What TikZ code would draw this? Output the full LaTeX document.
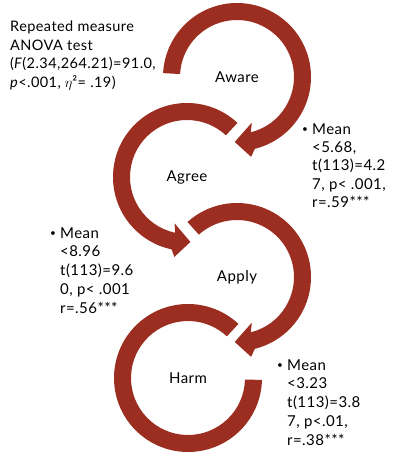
\documentclass[tikz,border=0pt]{standalone}
\usepackage{fontspec}
\setmainfont{Lato}[LetterSpace=3]
\definecolor{arrowred}{RGB}{155,46,32}
\newcommand{\bul}[1]{\makebox[#1][l]{\hspace*{1pt}\raisebox{1.5pt}{\fontsize{10}{10}\selectfont •}}}
\begin{document}
\begin{tikzpicture}[x=1pt,y=1pt,
  cyc/.style={fill=arrowred, draw=none},
  lbl/.style={font=\fontsize{15}{18}\selectfont, inner sep=0},
  info/.style={align=left, anchor=north west, inner sep=0}]
\useasboundingbox (0,0) rectangle (411,-458);
% stage labels
\node[lbl] (aware) at (237,-77) {Aware};
\node[lbl] (agree) at (187,-177) {Agree};
\node[lbl] (apply) at (237,-277) {Apply};
\node[lbl] (harm)  at (188,-378) {Harm};
% circular arrows
\begin{scope}[shift={(aware.center)}]
\fill[cyc] (177:74) arc[start angle=177,end angle=-76,radius=74] -- (-80:81) -- (-92:65) -- (-72:48) -- (-76:57) arc[start angle=-76,end angle=177,radius=57] -- cycle;
\end{scope}
\begin{scope}[shift={(agree.center)}]
\fill[cyc] (47:74) arc[start angle=47,end angle=258,radius=74] -- (261:81) -- (273:65) -- (255:48) -- (258:57) arc[start angle=258,end angle=47,radius=57] -- cycle;
\end{scope}
\begin{scope}[shift={(apply.center)}]
\fill[cyc] (132:74) arc[start angle=132,end angle=-76,radius=74] -- (-80:81) -- (-92:65) -- (-72:48) -- (-76:57) arc[start angle=-76,end angle=132,radius=57] -- cycle;
\end{scope}
\begin{scope}[shift={(harm.center)}]
\fill[cyc] (47:74) arc[start angle=47,end angle=358.5,radius=74] -- (358.5:57) arc[start angle=358.5,end angle=47,radius=57] -- cycle;
\end{scope}
% text blocks
\node[info, font=\fontsize{14.5}{18.5}\selectfont] (anova) at (10,-18.5)
  {\strut Repeated measure\\ANOVA test\\(\textit{F}(2.34,264.21)=91.0,\\\textit{p}<.001, $\eta$²= .19)};
\node[info, font=\fontsize{15}{18.3}\selectfont] (stat1) at (301,-121.2)
  {\strut\bul{11pt}Mean\\\hspace*{11pt}<5.68,\\\hspace*{11pt}t(113)=4.2\\\hspace*{11pt}7, p< .001,\\\hspace*{11pt}r=.59***};
\node[info, font=\fontsize{15}{18.8}\selectfont] (stat2) at (49,-224.8)
  {\strut\bul{11pt}Mean\\\hspace*{11pt}<8.96\\\hspace*{11pt}t(113)=9.6\\\hspace*{11pt}0, p< .001\\\hspace*{11pt}r=.56***};
\node[info, font=\fontsize{15}{18.8}\selectfont] (stat3) at (276,-356.8)
  {\strut\bul{11pt}Mean\\\hspace*{11pt}<3.23\\\hspace*{11pt}t(113)=3.8\\\hspace*{11pt}7, p<.01,\\\hspace*{11pt}r=.38***};
\end{tikzpicture}
\end{document}
